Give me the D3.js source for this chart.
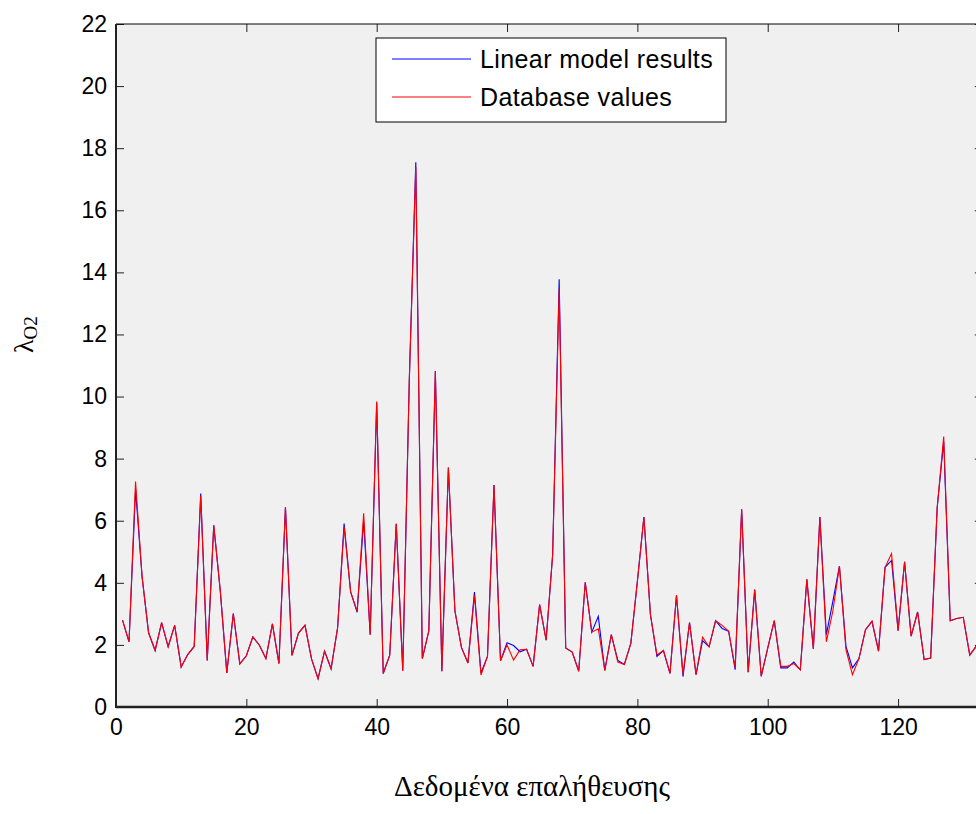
<html>
    <head>
        <script src="https://d3js.org/d3.v7.min.js"></script>
        <style>
            body { margin: 0; background: #fff; }
        </style>
    </head>
    <body>
        <script>
    // validation sample index 1..132
    var database = [2.80, 2.10, 7.26, 4.20, 2.39, 1.82, 2.72, 1.94, 2.63, 1.29,
        1.69, 1.95, 6.80, 1.50, 5.85, 3.75, 1.10, 3.01, 1.39, 1.65,
        2.26, 1.99, 1.56, 2.68, 1.40, 6.44, 1.66, 2.38, 2.63, 1.55,
        0.91, 1.80, 1.23, 2.55, 5.80, 3.71, 3.09, 6.24, 2.33, 9.84,
        1.08, 1.67, 5.90, 1.17, 10.5, 17.40, 1.56, 2.45, 10.82, 1.15,
        7.71, 3.10, 1.92, 1.42, 3.60, 1.03, 1.63, 7.15, 1.49, 2.00,
        1.51, 1.84, 1.86, 1.31, 3.30, 2.15, 4.91, 13.46, 1.90, 1.77,
        1.15, 4.02, 2.41, 2.52, 1.18, 2.33, 1.45, 1.37, 2.06, 4.05,
        6.12, 2.98, 1.68, 1.82, 1.08, 3.60, 1.05, 2.72, 1.04, 2.25,
        1.94, 2.78, 2.63, 2.44, 1.28, 6.37, 1.12, 3.78, 0.99, 1.90,
        2.78, 1.31, 1.31, 1.40, 1.20, 4.11, 1.87, 6.12, 2.10, 3.10,
        4.54, 1.85, 1.04, 1.56, 2.49, 2.76, 1.80, 4.50, 4.94, 2.46,
        4.68, 2.28, 3.06, 1.53, 1.58, 6.42, 8.71, 2.78, 2.85, 2.89,
        1.67, 1.96];

    var linearModel = [2.80, 2.10, 7.00, 4.20, 2.39, 1.82, 2.72, 1.94, 2.63, 1.29,
        1.69, 1.95, 6.88, 1.50, 5.85, 3.75, 1.10, 3.01, 1.39, 1.65,
        2.26, 1.99, 1.56, 2.68, 1.40, 6.44, 1.66, 2.38, 2.63, 1.55,
        0.91, 1.80, 1.23, 2.55, 5.91, 3.71, 3.05, 6.00, 2.33, 9.80,
        1.08, 1.67, 5.90, 1.17, 10.5, 17.55, 1.56, 2.45, 10.82, 1.15,
        7.71, 3.10, 1.92, 1.42, 3.70, 1.10, 1.63, 7.15, 1.49, 2.07,
        1.98, 1.78, 1.86, 1.31, 3.30, 2.15, 4.91, 13.78, 1.90, 1.77,
        1.15, 4.02, 2.41, 2.92, 1.18, 2.33, 1.50, 1.37, 2.06, 4.05,
        6.12, 2.98, 1.63, 1.82, 1.08, 3.60, 0.98, 2.72, 1.04, 2.14,
        1.94, 2.78, 2.53, 2.44, 1.20, 6.37, 1.12, 3.78, 0.99, 1.90,
        2.78, 1.26, 1.26, 1.45, 1.20, 4.11, 1.87, 6.12, 2.33, 3.41,
        4.54, 1.96, 1.26, 1.56, 2.49, 2.76, 1.80, 4.50, 4.72, 2.46,
        4.68, 2.28, 3.06, 1.53, 1.58, 6.42, 8.55, 2.78, 2.85, 2.89,
        1.67, 1.96];

    var xTicks = [0, 20, 40, 60, 80, 100, 120];
    var yTicks = [0, 2, 4, 6, 8, 10, 12, 14, 16, 18, 20, 22];
    var seriesNames = ["Linear model results", "Database values"];
    var seriesColors = ["#0000ff", "#ff0000"];

    var width = 976, height = 814;
    var margin = {top: 24, left: 116, bottom: 107};

    var svg = d3.select("body").append("svg")
        .attr("width", width)
        .attr("height", height)
        .style("display", "block");

    var x = d3.scaleLinear().domain([0, 133]).range([margin.left, 982.8]);
    var y = d3.scaleLinear().domain([0, 22]).range([height - margin.bottom, margin.top]);

    // axes background
    svg.append("rect")
        .attr("x", x(0)).attr("y", y(22))
        .attr("width", x(133) - x(0)).attr("height", y(0) - y(22))
        .attr("fill", "#f0f0f0");

    var tickFont = "'Liberation Sans', Arial, Helvetica, sans-serif";

    var styleAxis = function(g) {
        g.select(".domain").remove();
        g.selectAll(".tick line").attr("stroke", "#222");
        g.selectAll(".tick text")
            .attr("fill", "#000")
            .style("font-family", tickFont)
            .style("font-size", "23px");
    };

    svg.append("g")
        .attr("transform", "translate(0," + y(0) + ")")
        .call(d3.axisBottom(x).tickValues(xTicks).tickSizeInner(-8).tickSizeOuter(0).tickPadding(12))
        .call(styleAxis);
    svg.append("g")
        .attr("transform", "translate(0," + y(22) + ")")
        .call(d3.axisTop(x).tickValues(xTicks).tickSizeInner(-8).tickSizeOuter(0).tickFormat(""))
        .call(styleAxis);
    svg.append("g")
        .attr("transform", "translate(" + x(0) + ",0)")
        .call(d3.axisLeft(y).tickValues(yTicks).tickSizeInner(-8).tickSizeOuter(0).tickPadding(9))
        .call(styleAxis);
    svg.append("g")
        .attr("transform", "translate(" + x(133) + ",0)")
        .call(d3.axisRight(y).tickValues(yTicks).tickSizeInner(-8).tickSizeOuter(0).tickFormat(""))
        .call(styleAxis);

    // series
    var line = d3.line()
        .x((d, i) => x(i + 1))
        .y(d => y(d));

    [linearModel, database].forEach(function(s, k) {
        svg.append("path")
            .datum(s)
            .attr("fill", "none")
            .attr("stroke", seriesColors[k])
            .attr("stroke-width", 1.1)
            .attr("stroke-linejoin", "miter")
            .attr("d", line);
    });

    // frame
    svg.append("line").attr("x1", x(0)).attr("x2", x(133)).attr("y1", y(22)).attr("y2", y(22))
        .attr("stroke", "#000").attr("stroke-width", 1);
    svg.append("line").attr("x1", x(0)).attr("x2", x(133)).attr("y1", y(0)).attr("y2", y(0))
        .attr("stroke", "#222").attr("stroke-width", 2.5);
    svg.append("line").attr("x1", x(0)).attr("x2", x(0)).attr("y1", y(22)).attr("y2", y(0) + 1)
        .attr("stroke", "#222").attr("stroke-width", 2);

    // legend
    var leg = svg.append("g");
    leg.append("rect")
        .attr("x", 376).attr("y", 38)
        .attr("width", 350).attr("height", 84)
        .attr("fill", "#fff")
        .attr("stroke", "#000")
        .attr("stroke-width", 1);
    seriesNames.forEach(function(name, k) {
        var ly = 59 + k * 38;
        leg.append("line")
            .attr("x1", 392).attr("x2", 471)
            .attr("y1", ly).attr("y2", ly)
            .attr("stroke", seriesColors[k])
            .attr("stroke-width", 1.2);
        leg.append("text")
            .attr("x", 480).attr("y", ly + 9)
            .style("font-family", tickFont)
            .style("font-size", "25px")
            .style("letter-spacing", "0.4px")
            .attr("fill", "#000")
            .text(name);
    });

    // axis labels
    svg.append("text")
        .attr("x", 532).attr("y", 796)
        .attr("text-anchor", "middle")
        .style("font-family", "'Liberation Serif', 'Times New Roman', serif")
        .style("font-size", "29px")
        .text("Δεδομένα επαλήθευσης");

    var yl = svg.append("text")
        .attr("transform", "translate(33,353) rotate(-90)")
        .style("font-family", "'Liberation Serif', 'Times New Roman', serif")
        .style("font-size", "28px");
    yl.append("tspan").text("λ");
    yl.append("tspan").attr("dy", 4).style("font-size", "19px").text("O2");
        </script>
    </body>
</html>
